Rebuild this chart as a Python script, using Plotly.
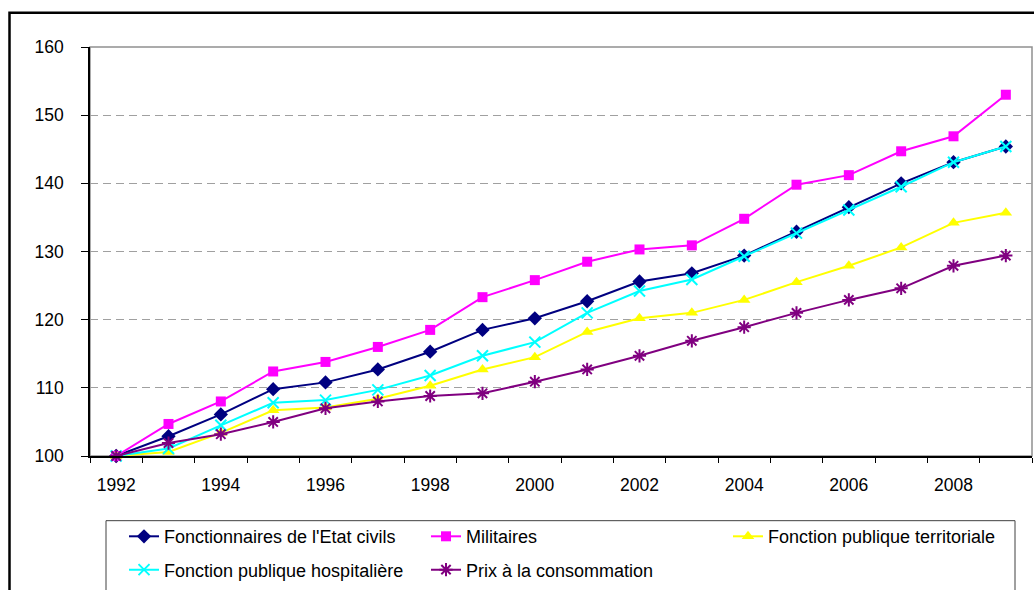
import plotly.graph_objects as go

years = list(range(1992, 2010))
etat_civils = [100, 102.9, 106.1, 109.8, 110.8, 112.7, 115.3, 118.5, 120.2, 122.7,
               125.6, 126.8, 129.4, 132.9, 136.5, 140.0, 143.1, 145.4]
militaires = [100, 104.7, 108.0, 112.4, 113.8, 116.0, 118.5, 123.3, 125.8, 128.5,
              130.3, 130.9, 134.8, 139.8, 141.2, 144.7, 146.9, 153.0]
territoriale = [100, 100.6, 103.4, 106.7, 107.1, 108.4, 110.3, 112.7, 114.5, 118.2,
                120.2, 121.0, 122.9, 125.5, 127.9, 130.6, 134.2, 135.7]
hospitaliere = [100, 101.1, 104.5, 107.8, 108.2, 109.7, 111.8, 114.7, 116.7, 121.0,
                124.2, 125.9, 129.3, 132.7, 136.1, 139.5, 143.1, 145.4]
prix = [100, 101.9, 103.2, 105.0, 107.0, 108.0, 108.8, 109.2, 110.9, 112.7,
        114.7, 116.9, 118.9, 121.0, 122.9, 124.6, 127.9, 129.4]

names = ["Fonctionnaires de l'Etat civils", "Militaires", "Fonction publique territoriale",
         "Fonction publique hospitalière", "Prix à la consommation"]

FONT = "Liberation Sans, Arial, sans-serif"

series = [
    (etat_civils, names[0], "#000080", dict(symbol="diamond", size=11, color="#000080"), "legend"),
    (militaires, names[1], "#FF00FF", dict(symbol="square", size=10, color="#FF00FF"), "legend"),
    (territoriale, names[2], "#FFFF00", dict(symbol="triangle-up", size=11, color="#FFFF00"), "legend"),
    (hospitaliere, names[3], "#00FFFF", dict(symbol="x-thin", size=11, color="#00FFFF",
                                             line=dict(color="#00FFFF", width=2)), "legend2"),
    (prix, names[4], "#800080", dict(symbol="asterisk", size=11, color="#800080",
                                      line=dict(color="#800080", width=2)), "legend2"),
]

fig = go.Figure()
for vals, name, col, mk, lg in series:
    fig.add_trace(go.Scatter(x=years, y=vals, name=name, mode="lines+markers",
                             line=dict(color=col, width=2), marker=mk,
                             legend=lg, cliponaxis=False))

W, H = 1034, 590
L, R, T, B = 90, 2, 47, 132
pw, ph = W - L - R, H - T - B

def px(x):
    return (x - L) / pw

def py(y):
    return (H - B - y) / ph

legend_common = dict(orientation="h", entrywidth=257, entrywidthmode="pixels",
                     xanchor="left", yanchor="middle", bgcolor="rgba(0,0,0,0)",
                     borderwidth=0, font=dict(family=FONT, size=18, color="black"))

fig.update_layout(
    width=W, height=H,
    margin=dict(l=L, r=R, t=T, b=B),
    paper_bgcolor="white", plot_bgcolor="white",
    font=dict(family=FONT, size=17.5, color="black"),
    legend=dict(x=px(124), y=py(539), **legend_common),
    legend2=dict(x=px(124), y=py(572.5), **legend_common),
    xaxis=dict(range=[1991.5, 2009.5], tickvals=list(range(1992, 2010, 2)),
               ticks="", showgrid=False, zeroline=False,
               showline=True, linecolor="black", linewidth=1.5,
               ticklabelstandoff=12,
               minor=dict(ticks="outside", ticklen=5, tickcolor="black", tickwidth=1,
                          tick0=1991.5, dtick=1, showgrid=False)),
    yaxis=dict(range=[100, 160], dtick=10, tick0=100,
               showgrid=True, gridcolor="#a0a0a0", gridwidth=1, griddash="8px,5px",
               zeroline=False, showline=True, linecolor="black", linewidth=1.5,
               ticks="outside", ticklen=7, tickcolor="black", tickwidth=1,
               ticklabelstandoff=14),
    shapes=[
        # plot area border (top/right grey)
        dict(type="rect", xref="paper", yref="paper", x0=0, x1=1, y0=0, y1=1,
             line=dict(color="#909090", width=1.5), layer="below"),
        # legend frame
        dict(type="rect", xref="paper", yref="paper", x0=px(106), x1=px(1015),
             y0=py(620), y1=py(523), line=dict(color="#404040", width=1)),
        # outer chart frame
        dict(type="rect", xref="paper", yref="paper", x0=px(9.5), x1=px(1060),
             y0=py(640), y1=py(12.5), line=dict(color="black", width=2.5)),
    ],
)

fig.write_html("out.html")
